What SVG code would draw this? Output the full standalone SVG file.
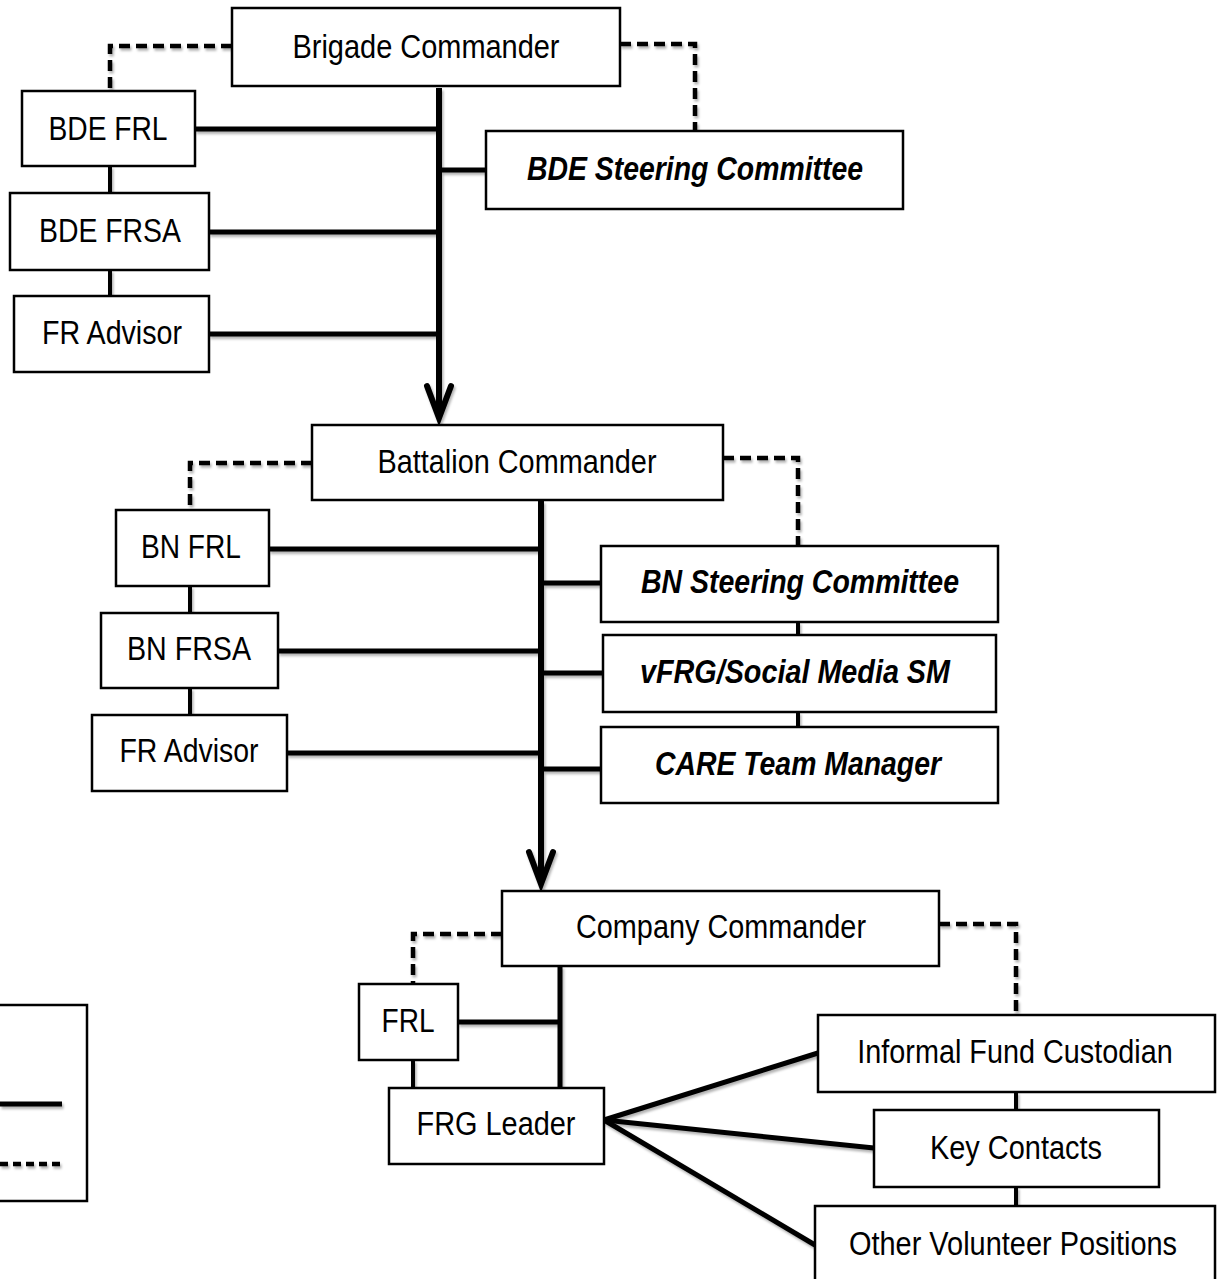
<svg xmlns="http://www.w3.org/2000/svg" width="1220" height="1279" viewBox="0 0 1220 1279">
<style>
.box{fill:#fff;stroke:#000;stroke-width:2.5}
.t{font-family:"Liberation Sans Narrow","Liberation Sans",Arial,sans-serif;font-size:34px;fill:#000;text-anchor:middle}
.bi{font-weight:bold;font-style:italic}
.solid{fill:none;stroke:#000;stroke-width:5;stroke-linecap:butt}
.main{fill:none;stroke:#000;stroke-width:6}
.dash{fill:none;stroke:#000;stroke-width:4.5;stroke-dasharray:11 6}
.tick{fill:none;stroke:#000;stroke-width:4}
</style>
<defs>
<filter id="sh" filterUnits="userSpaceOnUse" x="-20" y="0" width="1260" height="1300">
<feDropShadow dx="1.5" dy="2.5" stdDeviation="1.2" flood-color="#000" flood-opacity="0.3"/>
</filter>
<marker id="arr" markerUnits="userSpaceOnUse" viewBox="-40 -20 46 40" refX="0" refY="0" markerWidth="46" markerHeight="40" orient="auto" overflow="visible">
<path d="M-32,-12 L0,0 L-32,12" fill="none" stroke="#000" stroke-width="6" stroke-linecap="round" stroke-linejoin="miter"/>
</marker>
</defs>
<rect x="0" y="0" width="1220" height="1279" fill="#fff"/>

<g id="connectors" filter="url(#sh)">
<!-- Brigade level -->
<path class="dash" d="M232,46 H110 V91"/>
<path class="dash" d="M620,44 H695 V131"/>
<path class="tick" d="M110,166 V193"/>
<path class="tick" d="M110,270 V296"/>
<path class="main" d="M439,88 V418" marker-end="url(#arr)"/>
<path class="solid" d="M195,129 H439"/>
<path class="solid" d="M209,232 H439"/>
<path class="solid" d="M209,334 H439"/>
<path class="solid" d="M439,170 H486"/>
<!-- Battalion level -->
<path class="dash" d="M312,463 H190 V510"/>
<path class="dash" d="M723,458 H798 V546"/>
<path class="tick" d="M190,586 V613"/>
<path class="tick" d="M190,688 V715"/>
<path class="tick" d="M798,622 V635"/>
<path class="tick" d="M798,712 V727"/>
<path class="main" d="M541,501 V884" marker-end="url(#arr)"/>
<path class="solid" d="M269,549 H541"/>
<path class="solid" d="M278,651 H541"/>
<path class="solid" d="M287,753 H541"/>
<path class="solid" d="M541,583 H601"/>
<path class="solid" d="M541,673 H603"/>
<path class="solid" d="M541,769 H601"/>
<!-- Company level -->
<path class="dash" d="M502,934 H413 V984"/>
<path class="dash" d="M939,924 H1016 V1015"/>
<path class="tick" d="M413,1060 V1088"/>
<path class="tick" d="M1016,1092 V1110"/>
<path class="tick" d="M1016,1187 V1206"/>
<path class="solid" d="M560,966 V1088"/>
<path class="solid" d="M458,1022 H560"/>
<path class="solid" d="M604,1120 L818,1053"/>
<path class="solid" d="M604,1120 L874,1148"/>
<path class="solid" d="M604,1120 L815,1245"/>
</g>

<g id="n-brigade"><rect class="box" x="232" y="8" width="388" height="78"/><text class="t" x="426" y="58" textLength="267" lengthAdjust="spacingAndGlyphs">Brigade Commander</text></g>
<g id="n-bde-frl"><rect class="box" x="22" y="91" width="173" height="75"/><text class="t" x="108" y="140" textLength="119" lengthAdjust="spacingAndGlyphs">BDE FRL</text></g>
<g id="n-bde-frsa"><rect class="box" x="10" y="193" width="199" height="77"/><text class="t" x="110" y="242" textLength="142" lengthAdjust="spacingAndGlyphs">BDE FRSA</text></g>
<g id="n-bde-fra"><rect class="box" x="14" y="296" width="195" height="76"/><text class="t" x="112" y="344" textLength="140" lengthAdjust="spacingAndGlyphs">FR Advisor</text></g>
<g id="n-bde-sc"><rect class="box" x="486" y="131" width="417" height="78"/><text class="t bi" x="695" y="180" textLength="336" lengthAdjust="spacingAndGlyphs">BDE Steering Committee</text></g>

<g id="n-battalion"><rect class="box" x="312" y="425" width="411" height="75"/><text class="t" x="517" y="473" textLength="279" lengthAdjust="spacingAndGlyphs">Battalion Commander</text></g>
<g id="n-bn-frl"><rect class="box" x="116" y="510" width="153" height="76"/><text class="t" x="191" y="558" textLength="100" lengthAdjust="spacingAndGlyphs">BN FRL</text></g>
<g id="n-bn-frsa"><rect class="box" x="101" y="613" width="177" height="75"/><text class="t" x="189" y="660" textLength="124" lengthAdjust="spacingAndGlyphs">BN FRSA</text></g>
<g id="n-bn-fra"><rect class="box" x="92" y="715" width="195" height="76"/><text class="t" x="189" y="762" textLength="139" lengthAdjust="spacingAndGlyphs">FR Advisor</text></g>
<g id="n-bn-sc"><rect class="box" x="601" y="546" width="397" height="76"/><text class="t bi" x="800" y="593" textLength="318" lengthAdjust="spacingAndGlyphs">BN Steering Committee</text></g>
<g id="n-vfrg"><rect class="box" x="603" y="635" width="393" height="77"/><text class="t bi" x="795" y="683" textLength="310" lengthAdjust="spacingAndGlyphs">vFRG/Social  Media SM</text></g>
<g id="n-care"><rect class="box" x="601" y="727" width="397" height="76"/><text class="t bi" x="798" y="775" textLength="286" lengthAdjust="spacingAndGlyphs">CARE Team Manager</text></g>

<g id="n-company"><rect class="box" x="502" y="891" width="437" height="75"/><text class="t" x="721" y="938" textLength="290" lengthAdjust="spacingAndGlyphs">Company Commander</text></g>
<g id="n-frl"><rect class="box" x="359" y="984" width="99" height="76"/><text class="t" x="408" y="1032" textLength="53" lengthAdjust="spacingAndGlyphs">FRL</text></g>
<g id="n-frg"><rect class="box" x="389" y="1088" width="215" height="76"/><text class="t" x="496" y="1135" textLength="159" lengthAdjust="spacingAndGlyphs">FRG Leader</text></g>
<g id="n-ifc"><rect class="box" x="818" y="1015" width="397" height="77"/><text class="t" transform="translate(1015,1063) scale(0.85,1)" x="0" y="0" textLength="371" lengthAdjust="spacingAndGlyphs">Informal Fund Custodian</text></g>
<g id="n-key"><rect class="box" x="874" y="1110" width="285" height="77"/><text class="t" x="1016" y="1159" textLength="172" lengthAdjust="spacingAndGlyphs">Key Contacts</text></g>
<g id="n-other"><rect class="box" x="815" y="1206" width="400" height="90"/><text class="t" transform="translate(1013,1255) scale(0.85,1)" x="0" y="0" textLength="386" lengthAdjust="spacingAndGlyphs">Other Volunteer Positions</text></g>

<g id="legend">
<rect x="-10" y="1005" width="97" height="196" fill="#fff" stroke="#000" stroke-width="2.5"/>
<g filter="url(#sh)">
<path class="solid" d="M0,1104 H62"/>
<path class="dash" d="M0,1164 H62" style="stroke-dasharray:8 5"/>
</g>
</g>
</svg>
